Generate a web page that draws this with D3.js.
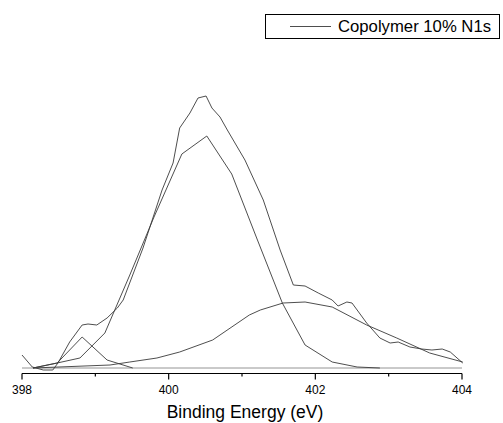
<html>
<script src='https://d3js.org/d3.v7.min.js'></script>
<style>
    body { margin: 0; background: white; }
    text { font-family: Arial, "Liberation Sans", sans-serif; }
</style>
<body>
<div id="graph-container"></div>
<script>
    // binding energy (eV) and intensity (arb. units)
    const rawEnergy = [398.0, 398.14, 398.29, 398.42, 398.49, 398.65, 398.82, 398.9, 399.02, 399.16, 399.3, 399.38,
        399.65, 399.91, 400.06, 400.15, 400.29, 400.4, 400.51, 400.59, 400.7, 400.8, 400.88, 401.04, 401.29, 401.52,
        401.7, 401.86, 402.04, 402.23, 402.31, 402.43, 402.5, 402.7, 402.88, 403.02, 403.13, 403.29, 403.45, 403.59,
        403.73, 403.84, 404.01];
    const rawIntensity = [13, 1, -2, -2, 5, 26, 43, 44, 43, 50, 60, 68,
        120, 178, 205, 240, 255, 270, 272, 260, 251, 238, 228, 208, 168, 118,
        83, 82, 75, 68, 62, 66, 65, 45, 30, 25, 26, 21, 19, 18,
        19, 16, 5];

    const mainEnergy = [398.15, 398.48, 398.79, 399.13, 399.47, 399.8, 400.18, 400.52, 400.86, 401.2, 401.55, 401.86, 402.23, 402.57, 402.88];
    const mainIntensity = [0, 5, 10, 35, 93, 151, 214, 232, 194, 130, 65, 23, 6, 1, 0];

    const lowEnergy = [398.15, 398.48, 398.82, 399.16, 399.51];
    const lowIntensity = [0, 5, 31, 8, 0];

    const highEnergy = [398.15, 399.2, 399.47, 399.84, 400.15, 400.6, 401.1, 401.25, 401.56, 401.86, 402.23, 402.7, 403.11, 403.56, 404.01];
    const highIntensity = [0, 3, 6, 10, 16, 28, 53, 58, 65, 66, 61, 43, 30, 15, 6];

    const baseEnergy = [398.0, 404.0];
    const baseIntensity = [0, 0];

    const majorTicks = [398, 400, 402, 404];
    const minorTicks = [399, 401, 403];
    const legendLabel = "Copolymer 10% N1s";
    const xTitle = "Binding Energy (eV)";

    const width = 503, height = 423;
    const svg = d3.select("#graph-container").append("svg")
        .attr("width", width)
        .attr("height", height);

    const xScale = d3.scaleLinear().domain([398, 404]).range([22, 462]);
    const yScale = d3.scaleLinear().domain([0, 300]).range([368, 68]);

    const line = d3.line()
        .x(d => xScale(d[0]))
        .y(d => yScale(d[1]));

    const zip = (a, b) => a.map((v, i) => [v, b[i]]);
    const series = [
        zip(baseEnergy, baseIntensity),
        zip(highEnergy, highIntensity),
        zip(lowEnergy, lowIntensity),
        zip(mainEnergy, mainIntensity),
        zip(rawEnergy, rawIntensity)
    ];

    svg.selectAll("path.curve")
        .data(series)
        .enter()
        .append("path")
        .attr("class", "curve")
        .attr("fill", "none")
        .attr("stroke", (d, i) => i == 0 ? "#888" : "#3a3a3a")
        .attr("stroke-width", 0.9)
        .attr("d", line);

    // x axis
    const axis = svg.append("g").attr("transform", "translate(0,373.5)");
    axis.append("line")
        .attr("x1", xScale(398)).attr("x2", xScale(404))
        .attr("stroke", "black").attr("stroke-width", 1);
    axis.selectAll("line.major")
        .data(majorTicks)
        .enter()
        .append("line")
        .attr("class", "major")
        .attr("x1", d => xScale(d)).attr("x2", d => xScale(d))
        .attr("y1", 0).attr("y2", 6)
        .attr("stroke", "black").attr("stroke-width", 1.2);
    axis.selectAll("line.minor")
        .data(minorTicks)
        .enter()
        .append("line")
        .attr("class", "minor")
        .attr("x1", d => xScale(d)).attr("x2", d => xScale(d))
        .attr("y1", 0).attr("y2", 3)
        .attr("stroke", "black").attr("stroke-width", 1.2);
    axis.selectAll("text")
        .data(majorTicks)
        .enter()
        .append("text")
        .attr("x", d => xScale(d))
        .attr("y", 20)
        .attr("text-anchor", "middle")
        .style("font-size", "12px")
        .text(d => d);

    svg.append("text")
        .attr("x", 245)
        .attr("y", 418)
        .attr("text-anchor", "middle")
        .style("font-size", "17.5px")
        .text(xTitle);

    // legend
    svg.append("rect")
        .attr("x", 265.5).attr("y", 14.5)
        .attr("width", 234).attr("height", 24)
        .attr("fill", "white")
        .attr("stroke", "black");
    svg.append("line")
        .attr("x1", 290).attr("x2", 331)
        .attr("y1", 26.5).attr("y2", 26.5)
        .attr("stroke", "#3a3a3a").attr("stroke-width", 0.9);
    svg.append("text")
        .attr("x", 338)
        .attr("y", 32)
        .style("font-size", "16.7px")
        .text(legendLabel);
</script>
</body>
</html>
